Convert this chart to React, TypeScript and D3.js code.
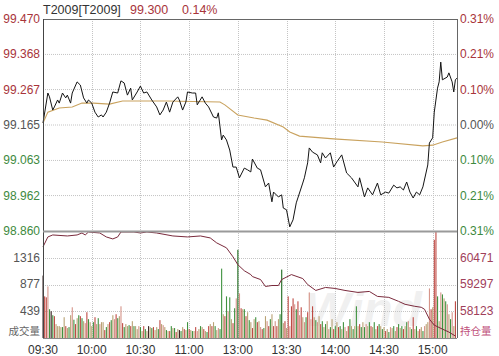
import React from "react";
import * as d3 from "d3";

// ---- data ----
const timeTickMinutes = [0, 30, 60, 90, 120, 150, 180, 210, 240];
const timeTickLabels = ["09:30", "10:00", "10:30", "11:00", "13:00", "13:30", "14:00", "14:30", "15:00"];

const priceTicks = [99.47, 99.368, 99.267, 99.165, 99.063, 98.962, 98.86];
const priceTickLabels = ["99.470", "99.368", "99.267", "99.165", "99.063", "98.962", "98.860"];
const pctTickLabels = ["0.31%", "0.21%", "0.10%", "0.00%", "0.10%", "0.21%", "0.31%"];
const volTicks = [439, 877, 1316];
const oiTicks = [58123, 59297, 60471];
const prevClose = 99.165;

const priceMinutes = [0,3,4,6,7,9,10,12,14,15,17,18,21,23,25,27,28,30,32,34,36,37,39,41,43,46,48,50,52,54,55,58,60,62,64,67,70,72,74,76,78,80,83,84,86,88,89,92,94,95,98,100,102,105,107,108,110,111,113,115,117,119,121,124,126,128,129,132,134,137,139,141,142,145,147,148,150,152,154,156,160,161,163,164,166,169,171,172,174,177,179,181,184,187,190,194,195,198,200,203,206,208,211,213,216,218,220,222,224,226,228,230,232,234,237,238,240,241,243,244,245,246,249,250,252,253,254,255];
const priceValues = [99.171,99.257,99.246,99.208,99.217,99.237,99.228,99.257,99.243,99.251,99.228,99.257,99.289,99.28,99.243,99.228,99.237,99.228,99.202,99.188,99.194,99.188,99.202,99.228,99.26,99.257,99.292,99.286,99.251,99.271,99.237,99.26,99.277,99.257,99.26,99.237,99.217,99.194,99.208,99.231,99.202,99.231,99.246,99.237,99.208,99.231,99.26,99.257,99.257,99.223,99.246,99.228,99.217,99.188,99.185,99.2,99.122,99.136,99.122,99.093,99.044,99.044,99.013,99.041,99.036,99.03,99.067,99.041,99.036,98.987,98.998,98.944,98.972,98.958,98.964,98.926,98.921,98.872,98.892,98.941,98.998,99.013,99.056,99.099,99.087,99.079,99.056,99.085,99.07,99.085,99.044,99.059,99.079,99.027,99.013,98.987,99.013,98.958,98.984,98.964,98.998,98.964,98.972,98.969,98.992,98.984,98.987,98.978,99.001,98.972,98.955,98.972,98.964,98.987,99.05,99.113,99.128,99.202,99.271,99.289,99.346,99.295,99.303,99.315,99.289,99.26,99.295,99.3];

const avgMinutes = [0,3,10,18,24,31,41,49,76,109,112,120,130,138,148,152,158,179,209,234,240,246,255];
const avgValues = [99.171,99.202,99.214,99.217,99.228,99.228,99.225,99.234,99.234,99.231,99.223,99.194,99.185,99.179,99.159,99.145,99.133,99.125,99.116,99.105,99.107,99.116,99.128];

const oiMinutes = [0,3,6,15,21,24,26,28,35,39,43,46,48,56,60,64,70,80,89,97,103,107,113,117,120,124,128,129,134,137,141,145,147,153,160,163,168,174,180,186,194,201,206,213,219,223,229,233,235,238,241,246,250,254];
const oiValues = [60949,61384,61471,61427,61471,61558,61471,61601,61558,61384,61297,61384,61601,61601,61558,61601,61558,61427,61384,61427,61341,61123,60906,60514,60167,59900,59732,59645,59514,59210,59253,59253,59514,59732,59558,59297,59036,59167,59123,59036,58949,58993,58775,58732,58558,58427,58340,58297,58210,57775,57514,57340,57210,57036];

const volumes = [
1024,683,667,846,472,439,374,358,228,195,
195,179,179,341,195,163,179,374,504,300,
228,325,374,358,325,276,244,423,309,260,
195,260,341,228,325,228,260,260,130,179,
228,260,293,374,309,390,325,358,520,244,
179,228,195,211,195,276,195,195,146,195,
179,114,195,146,114,195,179,163,179,130,
179,146,293,228,211,179,130,114,114,195,
163,163,98,146,130,114,179,146,130,260,
146,130,114,114,179,114,146,195,179,146,
114,98,195,228,195,260,195,130,163,146,
1138,390,358,683,439,667,309,244,488,650,
1447,732,488,472,472,358,423,293,260,163,
309,341,260,276,180,146,163,358,276,195,
309,390,195,276,195,309,390,1122,244,276,
163,683,195,520,650,553,472,602,374,504,
341,260,341,423,748,309,520,341,293,260,
358,228,276,179,228,276,146,179,309,146,
195,260,179,195,146,260,179,114,195,309,
195,146,195,520,195,228,179,260,179,228,
195,260,195,179,260,146,195,228,195,146,
179,114,146,98,179,163,195,114,179,228,
163,195,146,195,260,276,179,146,341,146,
195,114,146,179,114,195,228,260,813,472,
504,1610,1740,683,276,748,715,650,602,553,
390,309,423,195,602
];
const volumeColorCodes =
  "krrpgkgrtt" + "ttgtrtgtpg" + "rtgrgtprgt" + "tgrtgpttrg" + "trgtprgtpr" +
  "gttgrtgttp" + "gtrgtktgrt" + "tgrtptgtrg" + "tgrtkgtrtg" + "rtgtrptgtr" +
  "tgrtrtgtpg" + "gtrgpgtrgp" + "dprtgrtgtr" + "tgrtprgtpr" + "gtrprtgdtr" +
  "trprrpgrpr" + "tpgrpprtgp" + "trgtgtpgtr" + "gtrgtgptrg" + "tgtgtrgtgp" +
  "tgrtgtrgtg" + "trtgptgtrg" + "tgrtgptgrt" + "gtrtgpttpr" + "trrgtpgtgp" + "tgptr";

const palette: Record<string, string> = {
  r: "#bf4a44",
  g: "#3f923f",
  d: "#1d6a1d",
  t: "#b9a275",
  p: "#d6958a",
  k: "#3a2222",
};

const RED = "#a8343a";
const GREEN = "#3e8a3e";
const GRAY = "#555555";

export default function App() {
  const L = 43, R = 457, T = 19, MID = 231, B = 338;
  const x = d3.scaleLinear().domain([0, 255]).range([L, R]);
  const yP = d3.scaleLinear().domain([98.86, 99.47]).range([MID, T]);
  const yV = d3.scaleLinear().domain([0, 1755]).range([B, MID]);
  const yOI = d3.scaleLinear().domain([56949, 61645]).range([B, MID]);

  const priceLine = d3.line<number>().x((_, i) => x(priceMinutes[i])).y((d) => yP(d))(priceValues) || "";
  const avgLine = d3.line<number>().x((_, i) => x(avgMinutes[i])).y((d) => yP(d))(avgValues) || "";
  const oiLine = d3.line<number>().x((_, i) => x(oiMinutes[i])).y((d) => yOI(d))(oiValues) || "";

  const font = "'Liberation Sans', Arial, sans-serif";
  const cjk = "'Noto Sans CJK SC', sans-serif";
  const gridColor = "#c4c4c4";

  const priceColor = (v: number) => (v > prevClose + 1e-6 ? RED : v < prevClose - 1e-6 ? GREEN : GRAY);

  return (
    <svg width={499} height={356} style={{ position: "absolute", left: 0, top: 0, background: "#fff" }} fontFamily={font}>
      <rect x={0} y={0} width={499} height={356} fill="#fff" />
      {/* watermark */}
      <text x={305} y={326} fontSize={48} fontWeight="bold" fontStyle="italic" fill="#f0f0f0" fontFamily={font}>Wind</text>

      {/* grid: horizontal price */}
      {priceTicks.slice(1, -1).map((p, i) => (
        <line key={"hp" + i} x1={L} x2={R} y1={yP(p)} y2={yP(p)} stroke={gridColor} strokeDasharray="1,1" />
      ))}
      {volTicks.map((v, i) => (
        <line key={"hv" + i} x1={L} x2={R} y1={Math.round(yV(v)) + 0.5} y2={Math.round(yV(v)) + 0.5} stroke={gridColor} strokeDasharray="1,1" />
      ))}
      {timeTickMinutes.slice(1).map((m, i) => (
        <line key={"vg" + i} x1={Math.round(x(m)) + 0.5} x2={Math.round(x(m)) + 0.5} y1={T} y2={B} stroke={gridColor} strokeDasharray="1,1" />
      ))}

      {/* volume bars */}
      {volumes.map((v, i) => (
        <rect key={"b" + i} x={x(i) - 0.5} y={yV(v)} width={1.1} height={B - yV(v)} fill={palette[volumeColorCodes[i]] || palette.t} />
      ))}

      {/* lines */}
      <path d={avgLine} fill="none" stroke="#c9a25e" strokeWidth={1.1} />
      <path d={priceLine} fill="none" stroke="#141414" strokeWidth={1} />
      <path d={oiLine} fill="none" stroke="#7a2a3c" strokeWidth={1} />

      {/* borders */}
      <line x1={L} x2={R} y1={T + 0.5} y2={T + 0.5} stroke="#666" />
      <line x1={L + 0.5} x2={L + 0.5} y1={T} y2={B} stroke="#444" />
      <line x1={R + 0.5} x2={R + 0.5} y1={T} y2={B} stroke="#666" />
      <line x1={L} x2={R} y1={MID + 0.5} y2={MID + 0.5} stroke="#9a9a9a" strokeWidth={2} />
      <line x1={L} x2={R} y1={B + 0.5} y2={B + 0.5} stroke="#888" />

      {/* title */}
      <text x={43} y={14} fontSize={12.5} fill="#333">T2009[T2009]</text>
      <text x={130} y={14} fontSize={12.5} fill={RED}>99.300</text>
      <text x={182} y={14} fontSize={12.5} fill={RED}>0.14%</text>

      {/* left price labels */}
      {priceTicks.map((p, i) => (
        <text key={"pl" + i} x={40} y={yP(p)} dy="0.33em" fontSize={12} textAnchor="end" fill={priceColor(p)}>
          {priceTickLabels[i]}
        </text>
      ))}
      {/* right pct labels */}
      {priceTicks.map((p, i) => (
        <text key={"pr" + i} x={460} y={yP(p)} dy="0.33em" fontSize={12} fill={priceColor(p)}>
          {pctTickLabels[i]}
        </text>
      ))}
      {/* volume labels */}
      {volTicks.map((v, i) => (
        <text key={"vl" + i} x={40} y={yV(v)} dy="0.33em" fontSize={12} textAnchor="end" fill="#555">
          {String(v)}
        </text>
      ))}
      <text x={40} y={332} dy="0.33em" fontSize={10.5} textAnchor="end" fill="#666" fontFamily={cjk}>成交量</text>
      {oiTicks.map((v, i) => (
        <text key={"ol" + i} x={460} y={yOI(v)} dy="0.33em" fontSize={12} fill="#a0405a">
          {String(v)}
        </text>
      ))}
      <text x={460} y={332} dy="0.33em" fontSize={10.5} fill="#c0507a" fontFamily={cjk}>持仓量</text>

      {/* time labels */}
      {timeTickMinutes.map((m, i) => (
        <text key={"t" + i} x={x(m)} y={354} fontSize={12} textAnchor="middle" fill="#333">
          {timeTickLabels[i]}
        </text>
      ))}
    </svg>
  );
}
